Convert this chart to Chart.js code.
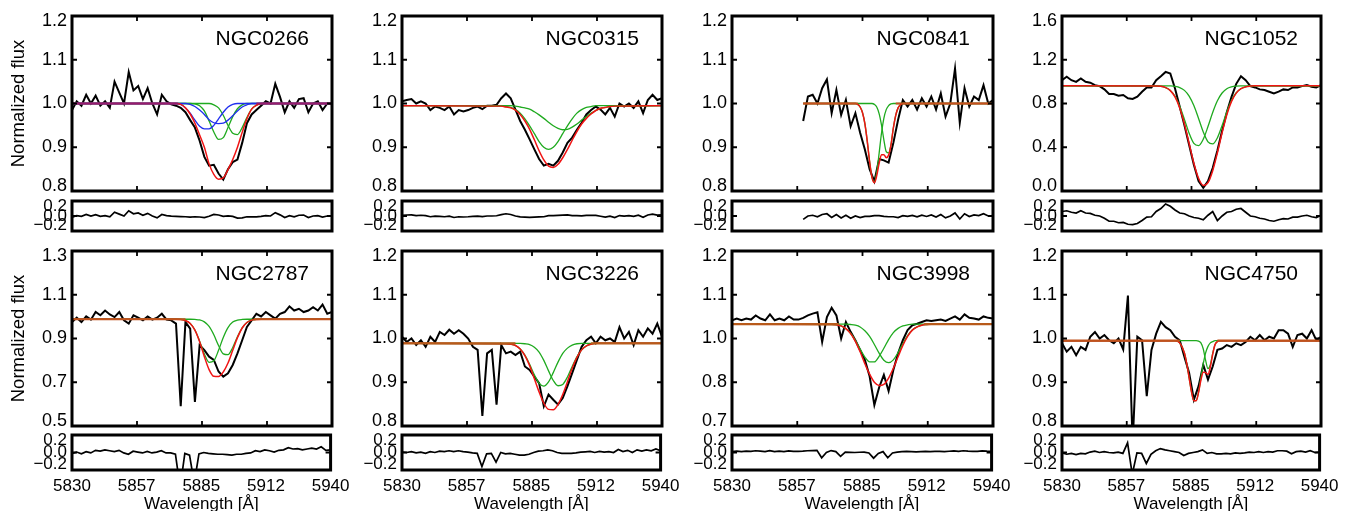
<!DOCTYPE html>
<html>
<head>
<meta charset="utf-8">
<script src="https://cdn.jsdelivr.net/npm/chart.js@4.4.0/dist/chart.umd.min.js"></script>
<style>
  html, body { margin: 0; padding: 0; background: #fff; overflow: hidden; }
  #fig { position: relative; width: 1348px; height: 511px; overflow: hidden; background: #fff; }
  #fig canvas { position: absolute; }
</style>
</head>
<body>
<div id="fig"></div>
<script>
// wavelength grid of the spectra (Angstrom)
const wave = [5830,5832,5834,5836,5838,5840,5842,5844,5846,5848,
  5850,5852,5854,5856,5858,5860,5862,5864,5866,5868,
  5870,5872,5874,5876,5878,5880,5882,5884,5886,5888,
  5890,5892,5894,5896,5898,5900,5902,5904,5906,5908,
  5910,5912,5914,5916,5918,5920,5922,5924,5926,5928,
  5930,5932,5934,5936,5938,5940];

const xTicks = [5830, 5857.5, 5885, 5912.5, 5940];
const xTickLabels = ['5830', '5857', '5885', '5912', '5940'];
const residTicks = [-0.2, 0, 0.2];
const residLabels = ['\u22120.2', '0.0', '0.2'];
const stdTicks = [0.8, 0.9, 1.0, 1.1, 1.2];
const stdLabels = ['0.8', '0.9', '1.0', '1.1', '1.2'];

// ---- NGC0266
const n0266Flux = [0.985,1.005,0.995,1.020,1.000,1.018,0.995,1.005,0.990,1.050,
  1.025,1.000,1.072,1.030,1.040,1.010,1.035,1.000,0.975,1.020,
  1.005,0.998,0.995,0.990,0.980,0.962,0.945,0.915,0.878,0.858,
  0.860,0.840,0.826,0.850,0.866,0.872,0.910,0.955,0.975,0.985,
  0.995,1.005,1.000,1.045,1.015,0.980,1.005,0.990,1.010,1.012,
  0.980,1.000,1.005,0.985,1.000,0.998];
const n0266Resid = [-0.015,0.005,-0.005,0.020,0.000,0.018,-0.005,0.005,-0.010,0.050,
  0.025,0.000,0.070,0.030,0.040,0.010,0.035,0.000,-0.025,0.020,
  0.005,-0.002,-0.005,-0.008,-0.010,-0.014,-0.010,-0.013,-0.022,-0.004,
  0.022,0.013,-0.004,0.001,-0.006,-0.028,-0.024,-0.010,-0.012,-0.011,
  -0.005,0.005,0.000,0.045,0.015,-0.020,0.005,-0.010,0.010,0.012,
  -0.020,0.000,0.005,-0.015,0.000,-0.002];
const n0266FitWave = [5830,5872,5874,5876,5878,5880,5882,5884,5886,5888,5890,5892,5894,5896,5898,5900,5902,5904,5906,5908,5910,5940];
const n0266Fit = [1,1,1,0.998,0.990,0.976,0.955,0.928,0.900,0.862,0.838,0.827,0.830,0.849,0.872,0.900,0.934,0.965,0.987,0.996,1,1];
const n0266G1 = [1,1,1,1,1,1,0.999,0.995,0.983,0.960,0.935,0.918,0.922,0.945,0.970,0.988,0.997,1,1,1,1,1];
const n0266G2 = [1,1,1,1,1,1,1,1,1,1,0.997,0.990,0.973,0.950,0.932,0.929,0.945,0.968,0.987,0.996,1,1];
const n0266B1 = [1,1,1,0.998,0.990,0.978,0.962,0.948,0.942,0.942,0.950,0.965,0.980,0.992,0.998,1,1,1,1,1,1,1];
const n0266B2 = [1,1,1,1,1,0.998,0.993,0.985,0.975,0.963,0.956,0.954,0.955,0.962,0.972,0.983,0.992,0.997,1,1,1,1];

// ---- NGC0315
const n0315Flux = [1.005,1.008,1.010,1.000,1.005,1.000,0.985,0.993,0.990,0.985,
  0.993,0.975,0.985,0.982,0.985,0.990,0.993,0.987,0.995,0.995,
  0.997,1.012,1.023,1.012,0.986,0.960,0.940,0.918,0.895,0.873,
  0.858,0.862,0.858,0.869,0.888,0.910,0.922,0.940,0.956,0.975,
  0.985,0.993,0.986,0.975,0.990,0.970,1.000,0.993,1.000,0.990,
  1.005,0.978,1.008,1.020,1.008,1.012];
const n0315Resid = [0.010,0.013,0.015,0.005,0.010,0.005,-0.010,-0.002,-0.005,-0.010,
  -0.002,-0.020,-0.010,-0.013,-0.010,-0.005,-0.002,-0.008,0.000,0.000,
  0.003,0.018,0.030,0.020,0.000,-0.012,-0.015,-0.018,-0.015,-0.012,
  -0.010,0.004,0.004,0.008,0.012,0.015,0.006,0.004,0.003,0.008,
  0.008,0.008,-0.003,-0.016,-0.002,-0.022,0.006,-0.001,0.006,-0.004,
  0.010,-0.016,0.013,0.025,0.013,0.017];
const n0315FitWave = [5830,5872,5874,5876,5878,5880,5882,5884,5886,5888,5890,5892,5894,5896,5898,5900,5902,5904,5906,5908,5910,5912,5914,5916,5918,5920,5940];
const n0315Fit = [0.995,0.994,0.992,0.990,0.985,0.975,0.960,0.941,0.917,0.892,0.871,0.857,0.854,0.861,0.876,0.895,0.916,0.936,0.953,0.966,0.976,0.984,0.989,0.991,0.993,0.994,0.995];
const n0315G1 = [0.995,0.994,0.993,0.991,0.986,0.978,0.965,0.949,0.931,0.913,0.900,0.895,0.900,0.913,0.931,0.949,0.965,0.978,0.986,0.991,0.993,0.995,0.995,0.995,0.995,0.995,0.995];
const n0315G2 = [0.995,0.995,0.995,0.995,0.994,0.992,0.990,0.987,0.981,0.974,0.966,0.957,0.949,0.943,0.940,0.941,0.946,0.953,0.962,0.970,0.978,0.984,0.989,0.991,0.993,0.994,0.995];

// ---- NGC0841 (spectrum starts at 5860)
const n0841Flux = [null,null,null,null,null,null,null,null,null,null,null,null,null,null,null,
  0.960,1.016,1.020,1.000,1.035,1.055,0.978,1.031,0.974,1.008,
  0.948,0.978,0.933,0.895,0.850,0.822,0.873,0.870,0.865,0.910,
  0.963,1.008,0.993,1.008,0.986,1.012,0.993,1.016,0.986,1.023,
  0.970,1.000,1.080,0.956,1.035,0.993,1.016,1.008,1.042,1.000,
  1.008];
const n0841Resid = [null,null,null,null,null,null,null,null,null,null,null,null,null,null,null,
  -0.045,0.000,0.010,-0.010,0.020,0.030,-0.020,0.020,-0.025,0.010,
  -0.030,0.000,-0.020,-0.005,-0.005,0.005,0.005,-0.005,-0.010,-0.010,
  -0.020,0.005,-0.005,0.008,-0.012,0.010,-0.006,0.015,-0.013,0.020,
  -0.025,0.000,0.040,-0.040,0.030,-0.008,0.015,0.005,0.030,0.000,
  0.005];
const n0841FitWave = [5860,5880,5882,5883,5884,5885,5886,5887,5888,5889,5890,5891,5892,5893,5894,5895,5896,5897,5898,5899,5900,5901,5902,5904,5940];
const n0841Fit = [1,1,1,0.998,0.992,0.979,0.954,0.914,0.867,0.831,0.819,0.835,0.863,0.883,0.883,0.876,0.882,0.905,0.944,0.973,0.990,0.997,1,1,1];
const n0841G1 = [1,1,1,0.998,0.992,0.979,0.954,0.914,0.867,0.831,0.821,0.843,0.886,0.932,0.966,0.986,0.995,0.999,1,1,1,1,1,1,1];
const n0841G2 = [1,1,1,1,1,1,1,1,1,1,0.998,0.992,0.977,0.951,0.917,0.890,0.887,0.906,0.944,0.973,0.990,0.997,1,1,1];

// ---- NGC1052
const n1052Flux = [1.013,1.044,1.013,0.998,1.029,0.998,0.990,0.968,0.959,0.929,
  0.887,0.887,0.872,0.878,0.848,0.842,0.863,0.908,0.947,0.947,
  1.013,1.050,1.089,1.074,0.938,0.770,0.600,0.420,0.240,0.090,
  0.030,0.090,0.210,0.370,0.550,0.720,0.860,0.980,1.050,1.013,
  0.959,0.947,0.929,0.923,0.908,0.893,0.908,0.929,0.923,0.947,
  0.947,0.959,0.968,0.953,0.947,0.968];
const n1052Resid = [0.060,0.070,0.050,0.040,0.070,0.040,0.035,0.010,0.000,-0.030,
  -0.070,-0.070,-0.090,-0.085,-0.110,-0.115,-0.100,-0.060,-0.015,-0.010,
  0.060,0.100,0.160,0.130,0.080,0.040,0.030,0.000,-0.020,-0.030,
  -0.050,0.010,0.060,-0.060,0.000,0.050,0.060,0.090,0.100,0.050,
  0.000,-0.010,-0.030,-0.040,-0.060,-0.070,-0.050,-0.035,-0.040,-0.015,
  -0.015,0.000,0.010,-0.010,-0.020,0.010];
const n1052FitWave = [5830,5870,5872,5874,5876,5878,5880,5882,5884,5886,5888,5890,5892,5894,5896,5898,5900,5902,5904,5906,5908,5910,5912,5940];
const n1052Fit = [0.962,0.960,0.957,0.945,0.918,0.860,0.759,0.613,0.434,0.254,0.116,0.051,0.076,0.186,0.350,0.533,0.697,0.819,0.895,0.935,0.952,0.959,0.962,0.962];
const n1052G1 = [0.962,0.960,0.957,0.945,0.919,0.865,0.775,0.655,0.528,0.435,0.415,0.474,0.589,0.718,0.825,0.896,0.935,0.952,0.959,0.962,0.962,0.962,0.962,0.962];
const n1052G2 = [0.962,0.962,0.962,0.962,0.961,0.957,0.946,0.920,0.868,0.781,0.663,0.539,0.449,0.430,0.487,0.599,0.724,0.829,0.898,0.935,0.952,0.959,0.962,0.962];

// ---- NGC2787
const n2787Flux = [0.975,0.995,0.975,1.001,0.986,1.021,1.006,1.028,1.010,0.998,
  1.021,0.983,0.968,1.006,0.995,0.983,1.001,0.986,0.995,1.013,
  0.986,0.983,0.968,0.590,0.975,0.945,0.610,0.870,0.847,0.817,
  0.802,0.749,0.726,0.741,0.779,0.832,0.892,0.953,0.983,1.013,
  1.001,1.021,1.006,0.991,1.013,1.021,1.047,1.028,1.036,1.021,
  1.028,1.043,1.028,1.055,1.013,1.021];
const n2787Resid = [-0.010,0.005,-0.015,0.010,-0.005,0.025,0.015,0.030,0.020,0.010,
  0.025,-0.005,-0.020,0.015,0.005,-0.005,0.012,-0.005,0.005,0.020,
  -0.005,-0.005,-0.020,-0.400,-0.010,-0.030,-0.350,-0.015,0.000,-0.010,
  -0.015,-0.020,-0.020,-0.025,-0.030,-0.020,-0.020,-0.010,-0.005,0.020,
  0.010,0.030,0.020,0.005,0.025,0.030,0.055,0.040,0.045,0.030,
  0.040,0.050,0.040,0.065,0.025,0.030];
const n2787FitWave = [5830,5874,5876,5878,5880,5882,5884,5886,5888,5890,5892,5894,5896,5898,5900,5902,5904,5906,5908,5910,5940];
const n2787Fit = [0.988,0.988,0.987,0.982,0.969,0.938,0.885,0.817,0.758,0.727,0.726,0.747,0.788,0.846,0.904,0.948,0.973,0.984,0.987,0.988,0.988];
const n2787G1 = [0.988,0.988,0.987,0.982,0.969,0.939,0.888,0.829,0.791,0.798,0.846,0.905,0.950,0.975,0.984,0.987,0.988,0.988,0.988,0.988,0.988];
const n2787G2 = [0.988,0.988,0.988,0.988,0.988,0.987,0.985,0.976,0.955,0.917,0.868,0.830,0.826,0.859,0.908,0.949,0.973,0.984,0.987,0.988,0.988];

// ---- NGC3226
const n3226Flux = [1.004,0.992,1.000,0.985,0.996,0.981,1.004,0.992,1.015,1.008,
  1.020,1.011,1.019,1.011,1.000,0.981,0.974,0.823,0.966,0.974,
  0.849,0.985,0.966,0.970,0.962,0.970,0.936,0.928,0.913,0.898,
  0.845,0.872,0.860,0.849,0.864,0.891,0.921,0.951,0.981,0.996,
  1.004,0.989,1.004,0.996,1.000,0.992,1.026,1.000,1.015,0.985,
  1.019,1.004,1.023,1.011,1.034,1.004];
const n3226Resid = [0.005,0.000,0.010,-0.005,0.005,-0.010,0.010,0.000,0.015,0.010,
  0.020,0.010,0.020,0.010,0.005,-0.005,-0.010,-0.160,-0.015,-0.010,
  -0.110,0.000,-0.015,-0.010,-0.020,-0.030,-0.030,-0.020,0.000,0.015,
  0.020,0.030,0.020,0.000,-0.010,-0.010,-0.010,-0.005,0.005,0.008,
  0.012,0.000,0.012,0.005,0.010,0.000,0.035,0.010,0.025,0.000,
  0.030,0.015,0.030,0.020,0.040,0.020];
const n3226FitWave = [5830,5874,5876,5878,5880,5882,5884,5886,5888,5890,5892,5894,5896,5898,5900,5902,5904,5906,5908,5910,5912,5914,5940];
const n3226Fit = [0.989,0.988,0.987,0.984,0.976,0.961,0.938,0.908,0.878,0.852,0.838,0.837,0.849,0.872,0.901,0.932,0.957,0.974,0.983,0.987,0.989,0.989,0.989];
const n3226G1 = [0.989,0.988,0.987,0.984,0.976,0.962,0.941,0.917,0.898,0.891,0.901,0.922,0.946,0.966,0.978,0.985,0.988,0.989,0.989,0.989,0.989,0.989,0.989];
const n3226G2 = [0.989,0.989,0.989,0.989,0.989,0.988,0.986,0.980,0.969,0.950,0.926,0.904,0.892,0.895,0.912,0.936,0.958,0.974,0.983,0.987,0.989,0.989,0.989];

// ---- NGC3998
const n3998Flux = [1.002,1.007,1.002,1.007,1.004,1.016,1.007,1.002,1.019,1.002,
  1.007,1.002,1.013,1.004,1.004,1.009,1.016,1.021,1.025,0.940,
  1.011,1.038,1.016,0.950,0.997,0.969,0.945,0.917,0.889,0.842,
  0.760,0.810,0.846,0.800,0.860,0.908,0.945,0.974,0.988,0.992,
  0.997,1.002,1.000,1.002,1.004,1.000,1.007,1.013,1.004,1.019,
  1.009,1.007,1.004,1.013,1.009,1.007];
const n3998Resid = [0.010,0.015,0.010,0.015,0.012,0.020,0.015,0.010,0.022,0.010,
  0.015,0.010,0.018,0.012,0.012,0.015,0.020,0.022,0.025,-0.060,
  0.000,0.022,0.010,-0.045,0.005,0.002,0.000,0.003,0.005,-0.005,
  -0.065,-0.010,0.010,-0.060,-0.005,0.005,0.010,0.012,0.010,0.008,
  0.010,0.012,0.010,0.012,0.012,0.010,0.014,0.018,0.012,0.020,
  0.015,0.013,0.012,0.018,0.015,0.014];
const n3998FitWave = [5830,5872,5874,5876,5878,5880,5882,5884,5886,5888,5890,5892,5894,5896,5898,5900,5902,5904,5906,5908,5910,5912,5914,5940];
const n3998Fit = [0.991,0.990,0.989,0.986,0.978,0.964,0.942,0.912,0.878,0.848,0.825,0.816,0.819,0.837,0.865,0.898,0.930,0.956,0.974,0.983,0.988,0.990,0.991,0.991];
const n3998G1 = [0.991,0.990,0.989,0.986,0.978,0.965,0.945,0.920,0.897,0.883,0.883,0.899,0.922,0.947,0.967,0.979,0.986,0.989,0.991,0.991,0.991,0.991,0.991,0.991];
const n3998G2 = [0.991,0.991,0.991,0.991,0.991,0.990,0.988,0.983,0.972,0.956,0.933,0.908,0.888,0.881,0.889,0.910,0.935,0.958,0.974,0.983,0.988,0.990,0.991,0.991];
const n3998Ticks = [0.7, 0.825, 0.95, 1.075, 1.2];
const n3998Labels = ['0.7', '0.8', '1.0', '1.1', '1.2'];

// ---- NGC4750
const n4750Flux = [0.989,0.970,0.981,0.962,0.981,0.974,1.004,1.015,1.000,1.008,
  0.996,0.989,1.000,0.975,1.098,0.760,1.004,0.996,0.868,0.974,
  1.011,1.038,1.026,1.019,1.004,0.996,0.958,0.921,0.860,0.891,
  0.940,0.906,0.936,0.974,0.977,0.985,0.981,0.989,0.985,0.992,
  1.004,0.996,1.008,0.996,1.004,1.000,1.019,1.019,1.011,0.981,
  1.008,1.011,1.000,1.019,0.996,1.004];
const n4750Resid = [-0.005,-0.020,-0.010,-0.025,-0.010,-0.015,0.005,0.015,0.000,0.010,
  0.000,-0.005,0.005,-0.010,0.110,-0.250,-0.005,-0.010,-0.125,-0.020,
  0.020,0.045,0.030,0.020,0.010,0.000,-0.035,-0.010,0.000,0.010,
  0.030,-0.010,0.000,-0.015,-0.015,-0.010,-0.015,-0.005,-0.010,-0.005,
  0.005,0.000,0.010,0.000,0.010,0.005,0.020,0.020,0.015,-0.015,
  0.010,0.015,0.005,0.020,0.000,0.005];
const n4750FitWave = [5830,5878,5880,5882,5883,5884,5885,5886,5887,5888,5889,5890,5891,5892,5893,5894,5895,5896,5897,5898,5900,5940];
const n4750Fit = [0.995,0.995,0.990,0.967,0.942,0.910,0.878,0.858,0.858,0.877,0.905,0.923,0.922,0.918,0.935,0.964,0.986,0.993,0.995,0.995,0.995,0.995];
const n4750G1 = [0.995,0.995,0.990,0.967,0.942,0.910,0.878,0.858,0.858,0.878,0.910,0.942,0.967,0.982,0.990,0.993,0.995,0.995,0.995,0.995,0.995,0.995];
const n4750G2 = [0.995,0.995,0.995,0.995,0.995,0.995,0.995,0.995,0.995,0.994,0.990,0.976,0.950,0.931,0.940,0.966,0.986,0.993,0.995,0.995,0.995,0.995];

const GREEN = '#1faa1f', BLUE = '#1f2fee', RED = '#f01414';

const panels = [
  { name: 'NGC0266', flux: n0266Flux, resid: n0266Resid, fitWave: n0266FitWave, fit: n0266Fit,
    comps: [[n0266B1, BLUE], [n0266B2, BLUE], [n0266G1, GREEN], [n0266G2, GREEN]],
    ymin: 0.8, ymax: 1.2, ticks: stdTicks, labels: stdLabels,
    cont: 1.0, segs: [[5830, 5875], [5908, 5940]], contColor: '#991b6e' },
  { name: 'NGC0315', flux: n0315Flux, resid: n0315Resid, fitWave: n0315FitWave, fit: n0315Fit,
    comps: [[n0315G1, GREEN], [n0315G2, GREEN]],
    ymin: 0.8, ymax: 1.2, ticks: stdTicks, labels: stdLabels },
  { name: 'NGC0841', flux: n0841Flux, resid: n0841Resid, fitWave: n0841FitWave, fit: n0841Fit,
    comps: [[n0841G1, GREEN], [n0841G2, GREEN]],
    ymin: 0.8, ymax: 1.2, ticks: stdTicks, labels: stdLabels,
    cont: 1.0, segs: [[5860, 5883], [5899, 5940]], contColor: '#c8501e' },
  { name: 'NGC1052', flux: n1052Flux, resid: n1052Resid, fitWave: n1052FitWave, fit: n1052Fit,
    comps: [[n1052G1, GREEN], [n1052G2, GREEN]],
    ymin: 0, ymax: 1.6, ticks: [0, 0.4, 0.8, 1.2, 1.6], labels: ['0.0', '0.4', '0.8', '1.2', '1.6'] },
  { name: 'NGC2787', flux: n2787Flux, resid: n2787Resid, fitWave: n2787FitWave, fit: n2787Fit,
    comps: [[n2787G1, GREEN], [n2787G2, GREEN]],
    ymin: 0.5, ymax: 1.3, ticks: [0.5, 0.7, 0.9, 1.1, 1.3], labels: ['0.5', '0.7', '0.9', '1.1', '1.3'],
    cont: 0.988, segs: [[5830, 5878], [5907, 5940]], contColor: '#c0521c' },
  { name: 'NGC3226', flux: n3226Flux, resid: n3226Resid, fitWave: n3226FitWave, fit: n3226Fit,
    comps: [[n3226G1, GREEN], [n3226G2, GREEN]],
    ymin: 0.8, ymax: 1.2, ticks: stdTicks, labels: stdLabels,
    cont: 0.989, segs: [[5830, 5878], [5910, 5940]], contColor: '#b85a1a' },
  { name: 'NGC3998', flux: n3998Flux, resid: n3998Resid, fitWave: n3998FitWave, fit: n3998Fit,
    comps: [[n3998G1, GREEN], [n3998G2, GREEN]],
    ymin: 0.7, ymax: 1.2, ticks: n3998Ticks, labels: n3998Labels,
    cont: 0.991, segs: [[5830, 5875], [5911, 5940]], contColor: '#b85a1a' },
  { name: 'NGC4750', flux: n4750Flux, resid: n4750Resid, fitWave: n4750FitWave, fit: n4750Fit,
    comps: [[n4750G1, GREEN], [n4750G2, GREEN]],
    ymin: 0.8, ymax: 1.2, ticks: stdTicks, labels: stdLabels,
    cont: 0.995, segs: [[5830, 5880], [5896, 5940]], contColor: '#c0521c' }
];

// figure layout
const colLeft = [72, 402, 732, 1062];
const boxW = [260, 260, 261, 259];
const rows = [
  { mainTop: 15, mainBot: 192, resTop: 199, resBot: 233 },
  { mainTop: 250, mainBot: 427, resTop: 433, resBot: 470 }
];
const FONT = '"Liberation Sans", Arial, Helvetica, sans-serif';
Chart.defaults.font.family = FONT;
Chart.defaults.color = '#000';

// box, inward ticks and galaxy name
Chart.register({
  id: 'frame',
  afterDatasetsDraw(chart, args, o) {
    const { ctx, chartArea: a, scales: { x, y } } = chart;
    ctx.save();
    ctx.strokeStyle = '#000';
    ctx.lineWidth = 1.8;
    ctx.beginPath();
    (o.xt || []).forEach(v => {
      const px = x.getPixelForValue(v);
      ctx.moveTo(px, a.top); ctx.lineTo(px, a.top + 5);
      ctx.moveTo(px, a.bottom); ctx.lineTo(px, a.bottom - 5);
    });
    (o.yt || []).forEach(v => {
      const py = y.getPixelForValue(v);
      ctx.moveTo(a.left, py); ctx.lineTo(a.left + 5, py);
      ctx.moveTo(a.right, py); ctx.lineTo(a.right - 5, py);
    });
    ctx.stroke();
    ctx.lineWidth = 3;
    ctx.strokeRect(a.left, a.top, a.right - a.left, a.bottom - a.top);
    if (o.name) {
      ctx.font = '21px ' + FONT;
      ctx.fillStyle = '#000';
      ctx.textAlign = 'right';
      ctx.textBaseline = 'middle';
      ctx.fillText(o.name, a.right - 23, a.top + 23);
    }
    ctx.restore();
  }
});

const fig = document.getElementById('fig');
function addCanvas(left, top, w, h) {
  const c = document.createElement('canvas');
  c.width = w; c.height = h;
  c.style.left = left + 'px'; c.style.top = top + 'px';
  c.style.width = w + 'px'; c.style.height = h + 'px';
  fig.appendChild(c);
  return c;
}

const pts = (xs, ys) => xs.map((x, i) => ({ x, y: ys[i] }));
const line = (data, color, width, order, smooth) => ({
  data, borderColor: color, borderWidth: width, pointRadius: 0, fill: false, order,
  tension: 0, cubicInterpolationMode: smooth ? 'monotone' : 'default'
});

// end labels are nudged inside the box, as in the original figure
const edgeLabels = labels => (v, i, ticks) =>
  i === 0 ? [labels[i], ''] : (i === ticks.length - 1 ? ['', labels[i]] : labels[i]);

function yScale(min, max, ticks, labels, width, size, lh, title) {
  return {
    min, max,
    afterBuildTicks: s => { s.ticks = ticks.map(v => ({ value: v })); },
    afterFit: s => { s.width = width; },
    grid: { display: false, drawTicks: false },
    border: { display: false },
    ticks: { autoSkip: false, padding: 5, color: '#000', font: { size, lineHeight: lh + 'px' }, callback: edgeLabels(labels) },
    title: title
      ? { display: true, text: title, color: '#000', font: { size: 18.5 }, padding: { top: 8, bottom: 0 } }
      : { display: false }
  };
}

function xScale(show) {
  return {
    type: 'linear', min: 5830, max: 5940, display: show,
    afterBuildTicks: s => { s.ticks = xTicks.map(v => ({ value: v })); },
    afterFit: s => { if (show) s.height = 50; },
    grid: { display: false, drawTicks: false },
    border: { display: false },
    ticks: { autoSkip: false, maxRotation: 0, padding: 6.5, color: '#000', font: { size: 17, lineHeight: 1.2 },
      callback: (v, i) => xTickLabels[i] },
    title: { display: show, text: 'Wavelength [\u00c5]', color: '#000', font: { size: 17 }, padding: { top: 0, bottom: 5 } }
  };
}

function baseOptions(pad, scales, frame) {
  return {
    responsive: false, animation: false, devicePixelRatio: 1, events: [],
    layout: { padding: pad },
    plugins: { legend: { display: false }, tooltip: { enabled: false }, frame },
    scales
  };
}

panels.forEach((p, k) => {
  const col = k % 4, row = Math.floor(k / 4);
  const r = rows[row];
  const padL = col === 0 ? 72 : 62;
  const w = padL + boxW[col] + 24;

  // main panel
  const mc = addCanvas(colLeft[col] - padL, r.mainTop - 14, w, r.mainBot - r.mainTop + 28);
  const ds = [line(pts(wave, p.flux), '#000', 2, 5, false)];
  p.comps.forEach(c => ds.push(line(pts(p.fitWave, c[0]), c[1], 1.3, 3, true)));
  ds.push(line(pts(p.fitWave, p.fit), RED, 1.5, 2, true));
  if (p.contColor) {
    const cd = [];
    p.segs.forEach((s, i) => {
      if (i > 0) cd.push({ x: s[0], y: null });
      cd.push({ x: s[0], y: p.cont }, { x: s[1], y: p.cont });
    });
    ds.push(line(cd, p.contColor, 2.2, 1, false));
  }
  new Chart(mc, {
    type: 'line',
    data: { datasets: ds },
    options: baseOptions({ left: 0, right: 24, top: 14, bottom: 14 }, {
      x: xScale(false),
      y: yScale(p.ymin, p.ymax, p.ticks, p.labels, padL, 18, 10, col === 0 ? 'Normalized flux' : null)
    }, { name: p.name, xt: xTicks.slice(1, -1), yt: p.ticks.slice(1, -1) })
  });

  // residual panel
  const bottom = row === 1;
  const rc = addCanvas(colLeft[col] - padL, r.resTop - 14, w, r.resBot - r.resTop + 14 + (bottom ? 50 : 14));
  new Chart(rc, {
    type: 'line',
    data: { datasets: [line(pts(wave, p.resid), '#000', 1.7, 1, false)] },
    options: baseOptions({ left: 0, right: 24, top: 14, bottom: bottom ? 0 : 14 }, {
      x: xScale(bottom),
      y: yScale(-0.2, 0.2, residTicks, residLabels, padL, 17, 11, null)
    }, { yt: [0] })
  });
});
</script>
</body>
</html>
